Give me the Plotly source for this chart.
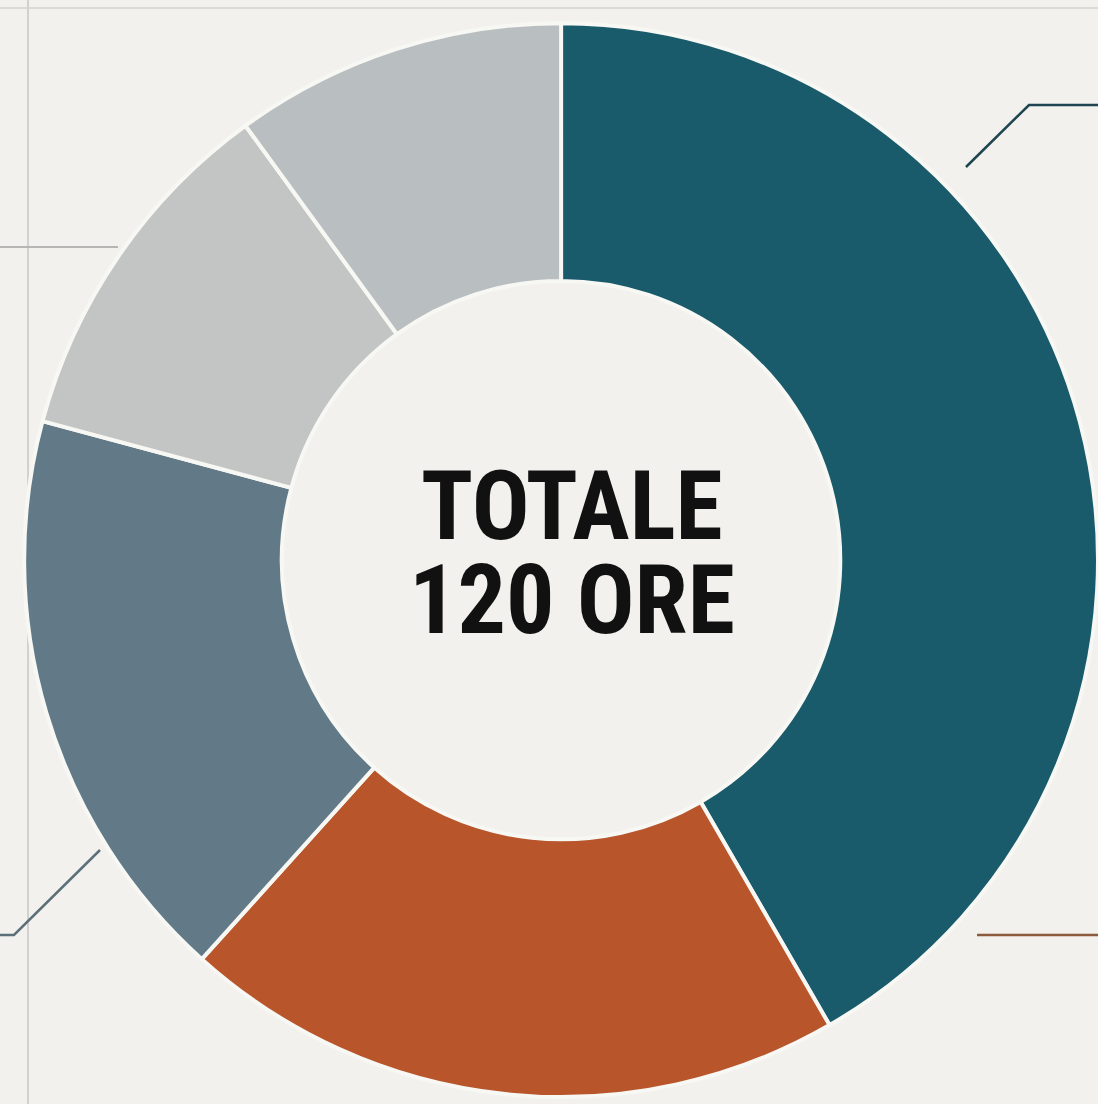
import plotly.graph_objects as go

# Data
categories = ["Lezioni frontali", "Laboratorio", "Esercitazioni", "Studio guidato", "Verifiche"]
hours = [50, 24, 21, 13, 12]
colors = ["#195A6B", "#B8552B", "#627A88", "#C3C4C4", "#B9BEC0"]
center_title = "TOTALE"
unit = "ORE"

W, H = 1098, 1104
BG = "#F2F1ED"

fig = go.Figure()
fig.add_trace(go.Pie(
    labels=categories,
    values=hours,
    hole=0.52,
    sort=False,
    direction="clockwise",
    rotation=0,
    marker=dict(colors=colors, line=dict(color="#F7F7F3", width=4)),
    textinfo="none",
    hoverinfo="label+value",
    showlegend=False,
    domain=dict(x=[0.022, 1.0], y=[0.0063, 0.979]),
))

font_fam = "Roboto Condensed, Liberation Sans Narrow, Arial Narrow, Roboto, sans-serif"
big = "<span style='font-size:96px'>{}</span>"
center_text = "<b>" + big.format(center_title) + "<br>" + big.format(f"{sum(hours)} {unit}") + "</b>"
fig.add_annotation(x=0.521, y=1 - 553 / H, xref="paper", yref="paper",
                   text=center_text, showarrow=False,
                   font=dict(family=font_fam, size=72, color="#111111"),
                   xanchor="center", yanchor="middle", align="center")

def px(x, y):
    return x / W, 1 - y / H

shapes = []
# frame / guide lines
shapes.append(dict(type="line", xref="paper", yref="paper", x0=28 / W, x1=28 / W, y0=0, y1=1,
                   line=dict(color="#C6C7C4", width=1.5), layer="below"))
shapes.append(dict(type="line", xref="paper", yref="paper", x0=0, x1=1, y0=1 - 8 / H, y1=1 - 8 / H,
                   line=dict(color="#D2D2CE", width=1.5), layer="below"))
shapes.append(dict(type="line", xref="paper", yref="paper", x0=0, x1=118 / W, y0=1 - 247 / H, y1=1 - 247 / H,
                   line=dict(color="#B5B6B3", width=2), layer="below"))

def leader(points, color):
    path = "M " + " L ".join(f"{px(x, y)[0]},{px(x, y)[1]}" for x, y in points)
    return dict(type="path", xref="paper", yref="paper", path=path,
                line=dict(color=color, width=2.5), layer="below")

shapes.append(leader([(966, 167), (1029, 105), (1098, 105)], "#1E4550"))
shapes.append(leader([(100, 850), (14, 935), (0, 935)], "#5C707A"))
shapes.append(leader([(977, 935), (1098, 935)], "#8E5A3E"))

fig.update_layout(
    width=W, height=H,
    margin=dict(l=0, r=0, t=0, b=0),
    paper_bgcolor=BG, plot_bgcolor=BG,
    shapes=shapes,
)

fig.write_html(
    "out.html",
    config={"displayModeBar": False},
    post_script=(
        "document.body.style.margin='0';"
        "document.body.style.padding='0';"
        "document.body.style.overflow='hidden';"
        f"document.body.style.background='{BG}';"
    ),
)
